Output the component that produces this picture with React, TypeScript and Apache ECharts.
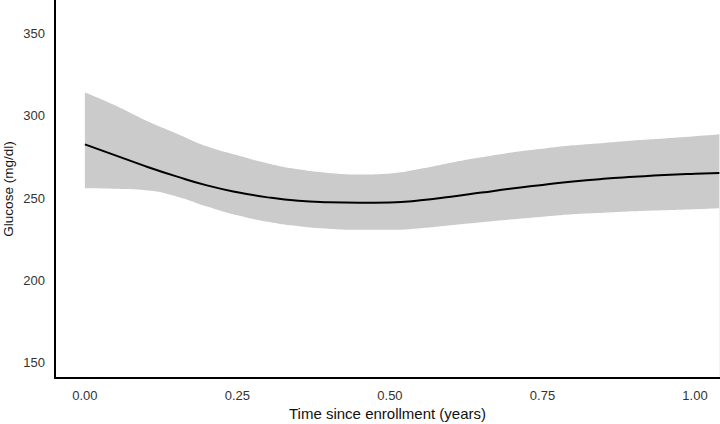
import React, { useEffect, useRef } from "react";
import * as echarts from "echarts";

const times = [0, 0.05, 0.1, 0.15, 0.2, 0.25, 0.3, 0.35, 0.4, 0.45, 0.5, 0.55, 0.6, 0.65, 0.7, 0.75, 0.8, 0.85, 0.9, 0.95, 1.0, 1.04];
const fitted = [282.7, 276.0, 269.3, 263.2, 257.7, 253.5, 250.4, 248.3, 247.4, 247.1, 247.3, 248.6, 250.8, 253.3, 255.8, 258.0, 260.1, 261.7, 262.9, 264.0, 264.8, 265.3];
const upper = [314.3, 306.4, 297.3, 289.4, 281.5, 276.0, 271.1, 267.5, 265.3, 264.4, 265.0, 267.8, 271.5, 274.8, 277.8, 280.0, 282.1, 283.6, 285.1, 286.3, 287.6, 288.8];
const lower = [255.9, 255.6, 254.7, 251.0, 244.9, 239.5, 235.5, 232.8, 231.3, 230.6, 230.6, 231.6, 233.4, 235.2, 237.0, 238.6, 240.1, 241.0, 241.9, 242.5, 243.1, 243.7];
const xTicks = [0, 0.25, 0.5, 0.75, 1.0];
const yTicks = [150, 200, 250, 300, 350];
const yMin = 140.3;
const yMax = 370.7;

export default function App() {
  const ref = useRef<HTMLDivElement>(null);
  useEffect(() => {
    if (!ref.current) return;
    const chart = echarts.init(ref.current, null, { renderer: "svg" });
    const font = "Liberation Sans, Arial, sans-serif";
    chart.setOption({
      animation: false,
      grid: { left: 55, right: 0, top: 0, bottom: 46, containLabel: false, outerBoundsMode: "none" },
      xAxis: {
        type: "value",
        min: -0.049,
        max: 1.041,
        z: 10,
        name: "Time since enrollment (years)",
        nameLocation: "middle",
        nameGap: 28,
        nameMoveOverlap: false,
        nameTextStyle: { fontFamily: font, fontSize: 15, color: "#111" },
        splitLine: { show: false },
        axisTick: { show: false },
        axisLine: { show: true, onZero: false, lineStyle: { color: "#000", width: 2 } },
        axisLabel: {
          fontFamily: font,
          fontSize: 13,
          color: "#333",
          margin: 11,
          customValues: xTicks,
          formatter: (v: number) => v.toFixed(2),
        },
      },
      yAxis: {
        type: "value",
        min: yMin,
        max: yMax,
        z: 10,
        name: "Glucose (mg/dl)",
        nameLocation: "middle",
        nameGap: 40,
        nameMoveOverlap: false,
        nameTextStyle: { fontFamily: font, fontSize: 13.5, color: "#111" },
        splitLine: { show: false },
        axisTick: { show: false },
        axisLine: { show: true, onZero: false, lineStyle: { color: "#000", width: 2 } },
        axisLabel: {
          fontFamily: font,
          fontSize: 13,
          color: "#333",
          margin: 10,
          customValues: yTicks,
          formatter: (v: number) => String(v),
        },
      },
      series: [
        {
          type: "line",
          data: times.map((t, i) => [t, upper[i]]),
          symbol: "none",
          smooth: true,
          lineStyle: { width: 0, opacity: 0 },
          areaStyle: { color: "#cbcbcb", opacity: 1, origin: "start" },
          silent: true,
          z: 1,
        },
        {
          type: "line",
          data: times.map((t, i) => [t, lower[i]]),
          symbol: "none",
          smooth: true,
          lineStyle: { width: 0, opacity: 0 },
          areaStyle: { color: "#ffffff", opacity: 1, origin: "start" },
          silent: true,
          z: 2,
          markLine: {
            silent: true,
            symbol: "none",
            label: { show: false },
            lineStyle: { color: "#ffffff", width: 2, type: "solid" },
            data: [[{ coord: [times[0], yMin] }, { coord: [times[0], lower[0] - 0.5] }]],
          },
        },
        {
          type: "line",
          data: times.map((t, i) => [t, fitted[i]]),
          symbol: "none",
          smooth: true,
          lineStyle: { color: "#000", width: 2 },
          silent: true,
          z: 3,
        },
      ],
    });
    return () => chart.dispose();
  }, []);
  return <div ref={ref} style={{ width: 720, height: 424, position: "absolute", left: 0, top: 0 }} />;
}
